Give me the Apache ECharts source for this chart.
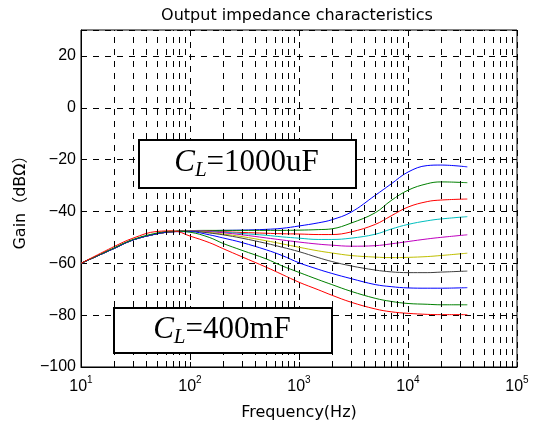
<!DOCTYPE html>
<html>
<head>
<meta charset="utf-8">
<script src="https://cdn.jsdelivr.net/npm/echarts@6/dist/echarts.min.js"></script>
<style>
  html, body { margin: 0; padding: 0; background: #fff; }
  #chart { width: 533px; height: 426px; }
</style>
</head>
<body>
<div id="chart"></div>
<script>
// frequencies (Hz) the curves were read at
const freqs = [10, 20, 30, 50, 70, 100, 150, 200, 300, 500, 700, 1000, 1500, 2000, 3000, 5000, 7000, 10000, 15000, 20000, 35000]

// gain (dBΩ), top curve (1000uF) to bottom curve (400mF)
const gainBlue1 = [-60, -54.3, -51, -48.6, -47.8, -47.5, -47.4, -47.3, -47.2, -46.9, -46.5, -45.6, -44.4, -43.2, -40.3, -33.8, -29.4, -24.8, -22.3, -22.1, -22.8]
const gainGreen1 = [-60, -54.3, -51, -48.6, -47.8, -47.4, -47.3, -47.3, -47.3, -47.3, -47.3, -47.2, -47.0, -46.7, -44.5, -40.5, -35.8, -31.8, -29.3, -28.6, -28.9]
const gainRed1 = [-60, -54.3, -51, -48.6, -47.8, -47.5, -47.6, -47.8, -48.1, -48.4, -48.6, -48.7, -48.9, -48.9, -47.9, -45.0, -41.7, -38.3, -36.2, -35.6, -35.2]
const gainCyan = [-60, -54.3, -51, -48.6, -47.8, -47.5, -47.7, -48.0, -48.5, -49.2, -49.8, -50.3, -50.8, -50.8, -50.3, -48.8, -46.8, -45.0, -43.6, -42.9, -42.0]
const gainMagenta = [-60, -54.3, -51, -48.6, -47.8, -47.5, -47.8, -48.2, -49.0, -50.2, -51.0, -51.8, -52.6, -53.0, -53.4, -53.2, -52.5, -51.6, -50.6, -50.0, -49.0]
const gainYellow = [-60, -54.3, -51, -48.6, -47.8, -47.6, -48.1, -48.7, -49.7, -51.3, -52.5, -53.8, -55.2, -56.0, -57.0, -57.6, -57.8, -57.7, -57.4, -57.0, -56.1]
const gainGray = [-60, -54.3, -51, -48.6, -47.8, -47.6, -48.3, -49.0, -50.3, -52.3, -53.8, -55.5, -57.8, -59.3, -61.0, -62.6, -63.3, -63.6, -63.6, -63.4, -63.0]
const gainBlue2 = [-60, -54.3, -51, -48.6, -47.8, -47.8, -49.0, -50.2, -52.0, -54.8, -57.0, -59.8, -62.3, -63.9, -65.9, -68.2, -69.0, -69.5, -69.6, -69.6, -69.4]
const gainGreen2 = [-60, -54.1, -50.8, -48.3, -47.6, -48.0, -50.0, -52.3, -55.0, -58.3, -61.0, -63.5, -66.3, -68.2, -70.8, -73.5, -74.7, -75.5, -75.8, -76.0, -76.0]
const gainRed2 = [-60, -53.6, -50.3, -47.7, -47.5, -49.5, -52.0, -54.3, -57.5, -61.5, -64.3, -67.3, -70.2, -72.3, -75.0, -77.6, -78.7, -79.3, -79.7, -79.8, -79.8]

const curves = [gainBlue1, gainGreen1, gainRed1, gainCyan, gainMagenta, gainYellow, gainGray, gainBlue2, gainGreen2, gainRed2]
const colors = ['#0000ff', '#008000', '#ff0000', '#00bfbf', '#bf00bf', '#bfbf00', '#404040', '#0000ff', '#008000', '#ff0000']

// axis
const xMin = 10
const xMax = 100000
const yTicks = [-100, -80, -60, -40, -20, 0, 20]

// minor grid lines at 2..9 x 10^n
var minorLines = []
for (var d = xMin; d < xMax; d *= 10) {
  for (var k = 2; k <= 9; k++) minorLines.push({ xAxis: d * k })
}

var dash = [6, 6]
var font = "'Liberation Sans', 'Noto Sans CJK JP', sans-serif"
var wideFont = "'DejaVu Sans', 'Noto Sans CJK JP', sans-serif"
var serif = "'Liberation Serif', 'DejaVu Serif', serif"

var series = [
  {
    type: 'line',
    data: [],
    silent: true,
    markLine: {
      silent: true,
      symbol: 'none',
      label: { show: false },
      animation: false,
      lineStyle: { color: '#000', type: dash, width: 1 },
      data: minorLines,
    },
  },
]
curves.forEach(function (g, i) {
  series.push({
    type: 'line',
    data: freqs.map(function (f, j) { return [f, g[j]] }),
    showSymbol: false,
    smooth: 0.4,
    lineStyle: { color: colors[i], width: 1 },
    itemStyle: { color: colors[i] },
    animation: false,
  })
})

function boxText(x, y, w, h, value) {
  return [
    {
      type: 'rect',
      left: x,
      top: y,
      z: 100,
      shape: { width: w, height: h },
      style: { fill: '#fff', stroke: '#000', lineWidth: 2 },
    },
    {
      type: 'text',
      x: x + w / 2,
      y: y + h / 2,
      z: 101,
      style: {
        text: '{c|C}{l|L}{n|=' + value + '}',
        align: 'center',
        verticalAlign: 'middle',
        rich: {
          c: { fontFamily: serif, fontStyle: 'italic', fontSize: 31, lineHeight: 36, verticalAlign: 'middle', fill: '#000' },
          l: { fontFamily: serif, fontStyle: 'italic', fontSize: 21, lineHeight: 22, verticalAlign: 'bottom', fill: '#000' },
          n: { fontFamily: serif, fontSize: 31, lineHeight: 36, verticalAlign: 'middle', fill: '#000' },
        },
      },
    },
  ]
}

var myChart = echarts.init(document.getElementById('chart'))
var option = {
  backgroundColor: '#fff',
  animation: false,
  title: {
    text: 'Output impedance characteristics',
    left: 292,
    textAlign: 'center',
    top: 3,
    textStyle: { fontFamily: wideFont, fontSize: 16, fontWeight: 'normal', color: '#000' },
  },
  grid: {
    left: 81,
    top: 30,
    width: 436,
    height: 341,
    show: true,
    borderColor: '#000',
    borderWidth: 1,
    containLabel: false,
  },
  xAxis: {
    type: 'log',
    logBase: 10,
    min: xMin,
    max: xMax,
    name: 'Frequency(Hz)',
    nameLocation: 'middle',
    nameGap: 38,
    nameTextStyle: { fontFamily: wideFont, fontSize: 16, color: '#000' },
    axisLine: { show: true, onZero: false, lineStyle: { color: '#000', width: 1 } },
    axisTick: { show: true, inside: true, length: 5, lineStyle: { color: '#000' } },
    axisLabel: {
      margin: 8,
      color: '#000',
      formatter: function (v) {
        var e = Math.round(Math.log10(v))
        return '{b|10}{e|' + e + '}'
      },
      rich: {
        b: { fontFamily: font, fontSize: 16, lineHeight: 20, verticalAlign: 'bottom', color: '#000' },
        e: { fontFamily: font, fontSize: 10, lineHeight: 12, verticalAlign: 'top', color: '#000' },
      },
    },
    splitLine: { show: true, lineStyle: { color: '#000', type: dash, width: 1 } },
  },
  yAxis: {
    type: 'value',
    min: yTicks[0],
    max: 30,
    interval: 20,
    name: 'Gain（dBΩ）',
    nameLocation: 'middle',
    nameGap: 52,
    nameTextStyle: { fontFamily: wideFont, fontSize: 16, color: '#000' },
    axisLine: { show: true, onZero: false, lineStyle: { color: '#000', width: 1 } },
    axisTick: { show: true, inside: true, length: 5, lineStyle: { color: '#000' } },
    axisLabel: {
      margin: 5,
      color: '#000',
      fontFamily: font,
      fontSize: 16,
      formatter: function (v) {
        if (yTicks.indexOf(v) < 0) return ''
        return String(v).replace('-', '\u2212')
      },
    },
    splitLine: { show: true, lineStyle: { color: '#000', type: dash, width: 1 } },
  },
  series: series,
  graphic: boxText(138, 139, 217, 48, '1000uF').concat(boxText(113, 307, 218, 45, '400mF')),
}
option && myChart.setOption(option)
window.addEventListener('resize', function () {
  myChart.resize()
})
</script>
</body>
</html>
